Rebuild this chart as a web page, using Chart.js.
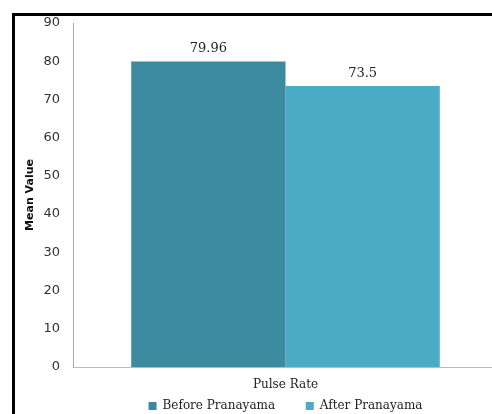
<!DOCTYPE html>
<html lang="en">
<head>
  <meta charset="UTF-8" />
  <title>Pulse Rate - Mean Value</title>
  <script src="https://cdn.jsdelivr.net/npm/chart.js"></script>
  <style>
    html, body { margin: 0; background: #fff; overflow: hidden; }
    #frame {
      position: absolute; left: 12px; top: 13px; width: 483px; height: 398px;
      border-top: 3px solid #000; border-left: 3px solid #000; overflow: hidden;
    }
    #chart { display: block; }
  </style>
</head>
<body>
<div id="frame"><canvas id="chart" width="483" height="398"></canvas></div>
<script>
  const categories = ['Pulse Rate'];
  const seriesNames = ['Before Pranayama', 'After Pranayama'];
  const beforeValues = [79.96];
  const afterValues = [73.5];
  const valueLabels = [['79.96'], ['73.5']];
  const yTicks = [0, 10, 20, 30, 40, 50, 60, 70, 80, 90];

  const serif = "'DejaVu Serif', 'Liberation Serif', serif";
  const sans = "'DejaVu Sans', sans-serif";

  // labels above each bar
  const barLabels = {
    id: 'barLabels',
    afterDatasetsDraw(chart) {
      const ctx = chart.ctx;
      ctx.save();
      ctx.font = '13px ' + serif;
      ctx.fillStyle = '#222';
      ctx.textAlign = 'center';
      ctx.textBaseline = 'bottom';
      chart.data.datasets.forEach((ds, i) => {
        chart.getDatasetMeta(i).data.forEach((bar, j) => {
          ctx.fillText(valueLabels[i][j], bar.x, bar.y - 6);
        });
      });
      ctx.restore();
    }
  };

  new Chart(document.getElementById('chart'), {
    type: 'bar',
    data: {
      labels: categories,
      datasets: [
        { label: seriesNames[0], data: beforeValues, backgroundColor: '#3c8aa0' },
        { label: seriesNames[1], data: afterValues, backgroundColor: '#4aabc5' }
      ]
    },
    options: {
      responsive: false,
      animation: false,
      layout: { padding: { top: 7, right: 0, left: 0, bottom: -8 } },
      categoryPercentage: 0.726,
      barPercentage: 1,
      plugins: {
        legend: {
          position: 'bottom',
          fullSize: false,
          labels: {
            boxWidth: 8, boxHeight: 8, padding: 4, color: '#222',
            font: { family: serif, size: 12 },
            // wider gap between the two entries, as in the original
            generateLabels(chart) {
              const items = Chart.defaults.plugins.legend.labels.generateLabels(chart);
              items[0].text += '       ';
              return items;
            }
          }
        },
        tooltip: { enabled: false }
      },
      scales: {
        x: {
          grid: { display: false, drawTicks: false },
          border: { color: '#bbb', width: 1 },
          ticks: { display: false },
          title: { display: true, text: categories[0], color: '#222', font: { family: serif, size: 12 }, padding: { top: 3, bottom: 4 } },
          afterFit(scale) { scale.height = 29; scale.paddingLeft = 0; scale.paddingRight = 0; }
        },
        y: {
          min: 0, max: 90,
          afterBuildTicks(scale) { scale.ticks = yTicks.map(v => ({ value: v })); },
          grid: { display: false, drawTicks: false },
          border: { color: '#aaa', width: 1 },
          ticks: { color: '#333', font: { family: sans, size: 13 }, padding: 13 },
          title: { display: true, text: 'Mean Value', color: '#111', font: { family: sans, size: 11, weight: 'bold' }, padding: { top: 9, bottom: 0 } },
          afterFit(scale) { scale.width = 58; scale.paddingTop = 0; scale.paddingBottom = 0; }
        }
      }
    },
    plugins: [barLabels]
  });
</script>
</body>
</html>
